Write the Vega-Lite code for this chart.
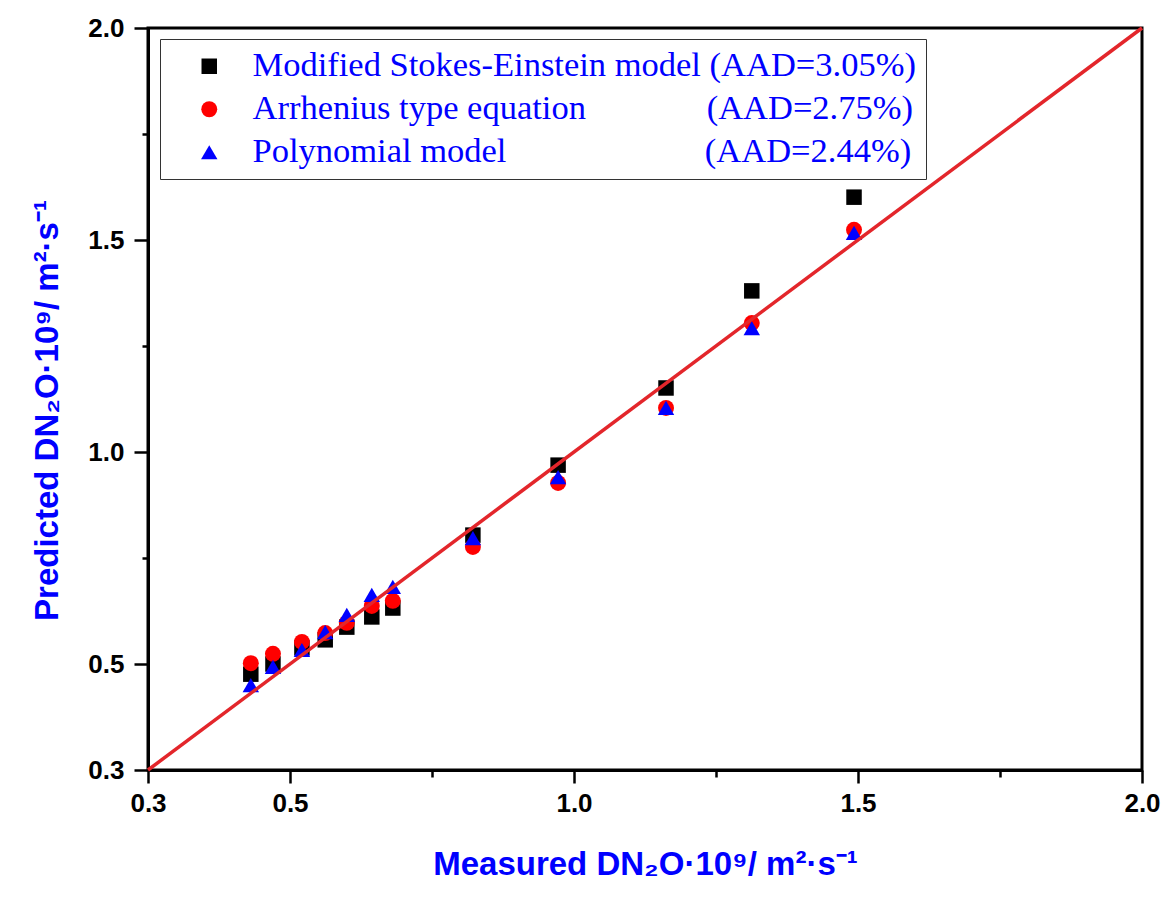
{
  "$schema": "https://vega.github.io/schema/vega-lite/v6.json",
  "width": 994,
  "height": 742,
  "autosize": {"type": "none"},
  "padding": {"left": 148, "top": 28, "right": 27, "bottom": 130},
  "background": "white",
  "config": {
    "view": {"stroke": "black", "strokeWidth": 3},
    "axis": {
      "grid": false,
      "domainColor": "black",
      "domainWidth": 3,
      "tickColor": "black",
      "tickWidth": 2.5,
      "labelFont": "Liberation Sans",
      "labelFontWeight": "bold",
      "labelFontSize": 26,
      "labelColor": "black",
      "titleFont": "Liberation Sans",
      "titleFontWeight": "bold",
      "titleFontSize": 33,
      "titleColor": "#0000ff"
    },
    "legend": {
      "title": null,
      "orient": "none",
      "legendX": 12,
      "legendY": 11,
      "padding": 10,
      "strokeColor": "#333333",
      "fillColor": "white",
      "symbolStrokeWidth": 0,
      "symbolOffset": 22,
      "labelOffset": 26,
      "rowPadding": 8,
      "labelFont": "Liberation Serif",
      "labelFontSize": 34.5,
      "labelColor": "#0000ff",
      "labelLimit": 2000
    }
  },
  "datasets": {
    "points": [
      {"model": "Modified Stokes-Einstein model", "measured": 0.431, "predicted": 0.476},
      {"model": "Modified Stokes-Einstein model", "measured": 0.470, "predicted": 0.500},
      {"model": "Modified Stokes-Einstein model", "measured": 0.521, "predicted": 0.538},
      {"model": "Modified Stokes-Einstein model", "measured": 0.562, "predicted": 0.557},
      {"model": "Modified Stokes-Einstein model", "measured": 0.600, "predicted": 0.587},
      {"model": "Modified Stokes-Einstein model", "measured": 0.644, "predicted": 0.611},
      {"model": "Modified Stokes-Einstein model", "measured": 0.681, "predicted": 0.632},
      {"model": "Modified Stokes-Einstein model", "measured": 0.822, "predicted": 0.804},
      {"model": "Modified Stokes-Einstein model", "measured": 0.972, "predicted": 0.969},
      {"model": "Modified Stokes-Einstein model", "measured": 1.162, "predicted": 1.151},
      {"model": "Modified Stokes-Einstein model", "measured": 1.313, "predicted": 1.380},
      {"model": "Modified Stokes-Einstein model", "measured": 1.493, "predicted": 1.601},
      {"model": "Arrhenius type equation", "measured": 0.431, "predicted": 0.502},
      {"model": "Arrhenius type equation", "measured": 0.470, "predicted": 0.524},
      {"model": "Arrhenius type equation", "measured": 0.521, "predicted": 0.552},
      {"model": "Arrhenius type equation", "measured": 0.562, "predicted": 0.573},
      {"model": "Arrhenius type equation", "measured": 0.600, "predicted": 0.597},
      {"model": "Arrhenius type equation", "measured": 0.644, "predicted": 0.637},
      {"model": "Arrhenius type equation", "measured": 0.681, "predicted": 0.649},
      {"model": "Arrhenius type equation", "measured": 0.822, "predicted": 0.776},
      {"model": "Arrhenius type equation", "measured": 0.972, "predicted": 0.927},
      {"model": "Arrhenius type equation", "measured": 1.162, "predicted": 1.104},
      {"model": "Arrhenius type equation", "measured": 1.313, "predicted": 1.304},
      {"model": "Arrhenius type equation", "measured": 1.493, "predicted": 1.524},
      {"model": "Polynomial model", "measured": 0.431, "predicted": 0.450},
      {"model": "Polynomial model", "measured": 0.470, "predicted": 0.493},
      {"model": "Polynomial model", "measured": 0.521, "predicted": 0.533},
      {"model": "Polynomial model", "measured": 0.562, "predicted": 0.575},
      {"model": "Polynomial model", "measured": 0.600, "predicted": 0.616},
      {"model": "Polynomial model", "measured": 0.644, "predicted": 0.663},
      {"model": "Polynomial model", "measured": 0.681, "predicted": 0.682},
      {"model": "Polynomial model", "measured": 0.822, "predicted": 0.797},
      {"model": "Polynomial model", "measured": 0.972, "predicted": 0.941},
      {"model": "Polynomial model", "measured": 1.162, "predicted": 1.104},
      {"model": "Polynomial model", "measured": 1.313, "predicted": 1.292},
      {"model": "Polynomial model", "measured": 1.493, "predicted": 1.517}
    ],
    "diag": [
      {"measured": 0.25, "predicted": 0.25},
      {"measured": 2.0, "predicted": 2.0}
    ]
  },
  "layer": [
    {
      "data": {"name": "points"},
      "mark": {"type": "point", "filled": true, "opacity": 1, "strokeWidth": 0},
      "encoding": {
        "x": {
          "field": "measured",
          "type": "quantitative",
          "scale": {"domain": [0.25, 2.0], "nice": false, "zero": false},
          "axis": {
            "title": "Measured DN₂O·10⁹/ m²·s⁻¹",
            "values": [0.25, 0.5, 0.75, 1.0, 1.25, 1.5, 1.75, 2.0],
            "labelExpr": "(datum.value == 0.75 || datum.value == 1.25 || datum.value == 1.75) ? '' : format(datum.value, '.1f')",
            "tickSize": {"condition": {"test": "datum.value == 0.75 || datum.value == 1.25 || datum.value == 1.75", "value": 7}, "value": 13},
            "labelPadding": 7,
            "labelFlush": false,
            "labelOverlap": false,
            "titleBaseline": "alphabetic",
            "titleY": 104
          }
        },
        "y": {
          "field": "predicted",
          "type": "quantitative",
          "scale": {"domain": [0.25, 2.0], "nice": false, "zero": false},
          "axis": {
            "title": "Predicted DN₂O·10⁹/ m²·s⁻¹",
            "values": [0.25, 0.5, 0.75, 1.0, 1.25, 1.5, 1.75, 2.0],
            "labelExpr": "(datum.value == 0.75 || datum.value == 1.25 || datum.value == 1.75) ? '' : format(datum.value, '.1f')",
            "tickSize": {"condition": {"test": "datum.value == 0.75 || datum.value == 1.25 || datum.value == 1.75", "value": 6}, "value": 14},
            "labelPadding": 10,
            "labelFlush": false,
            "labelOverlap": false,
            "titleBaseline": "alphabetic",
            "titleX": -91,
            "titleY": 382
          }
        },
        "size": {
          "field": "model",
          "type": "nominal",
          "sort": null,
          "scale": {
            "domain": ["Modified Stokes-Einstein model", "Arrhenius type equation", "Polynomial model"],
            "range": [240, 270, 420]
          },
          "legend": {
            "labelExpr": "datum.label == 'Modified Stokes-Einstein model' ? 'Modified Stokes-Einstein model (AAD=3.05%)' : datum.label == 'Arrhenius type equation' ? 'Arrhenius type equation\u00a0\u00a0\u00a0\u00a0\u00a0\u00a0\u00a0\u00a0\u00a0\u00a0\u00a0\u00a0\u00a0\u00a0(AAD=2.75%)' : 'Polynomial model\u00a0\u00a0\u00a0\u00a0\u00a0\u00a0\u00a0\u00a0\u00a0\u00a0\u00a0\u00a0\u00a0\u00a0\u00a0\u00a0\u00a0\u00a0\u00a0\u00a0\u00a0\u00a0\u00a0(AAD=2.44%)'"
          }
        },
        "color": {
          "field": "model",
          "type": "nominal",
          "sort": null,
          "scale": {
            "domain": ["Modified Stokes-Einstein model", "Arrhenius type equation", "Polynomial model"],
            "range": ["#000000", "#ff0000", "#0000ff"]
          },
          "legend": {
            "labelExpr": "datum.label == 'Modified Stokes-Einstein model' ? 'Modified Stokes-Einstein model (AAD=3.05%)' : datum.label == 'Arrhenius type equation' ? 'Arrhenius type equation\u00a0\u00a0\u00a0\u00a0\u00a0\u00a0\u00a0\u00a0\u00a0\u00a0\u00a0\u00a0\u00a0\u00a0(AAD=2.75%)' : 'Polynomial model\u00a0\u00a0\u00a0\u00a0\u00a0\u00a0\u00a0\u00a0\u00a0\u00a0\u00a0\u00a0\u00a0\u00a0\u00a0\u00a0\u00a0\u00a0\u00a0\u00a0\u00a0\u00a0\u00a0(AAD=2.44%)'"
          }
        },
        "shape": {
          "field": "model",
          "type": "nominal",
          "sort": null,
          "scale": {
            "domain": ["Modified Stokes-Einstein model", "Arrhenius type equation", "Polynomial model"],
            "range": ["square", "circle", "triangle-up"]
          },
          "legend": {
            "labelExpr": "datum.label == 'Modified Stokes-Einstein model' ? 'Modified Stokes-Einstein model (AAD=3.05%)' : datum.label == 'Arrhenius type equation' ? 'Arrhenius type equation\u00a0\u00a0\u00a0\u00a0\u00a0\u00a0\u00a0\u00a0\u00a0\u00a0\u00a0\u00a0\u00a0\u00a0(AAD=2.75%)' : 'Polynomial model\u00a0\u00a0\u00a0\u00a0\u00a0\u00a0\u00a0\u00a0\u00a0\u00a0\u00a0\u00a0\u00a0\u00a0\u00a0\u00a0\u00a0\u00a0\u00a0\u00a0\u00a0\u00a0\u00a0(AAD=2.44%)'"
          }
        }
      }
    },
    {
      "data": {"name": "diag"},
      "mark": {"type": "line", "color": "#e3262b", "strokeWidth": 3.5},
      "encoding": {
        "x": {"field": "measured", "type": "quantitative"},
        "y": {"field": "predicted", "type": "quantitative"}
      }
    }
  ]
}
